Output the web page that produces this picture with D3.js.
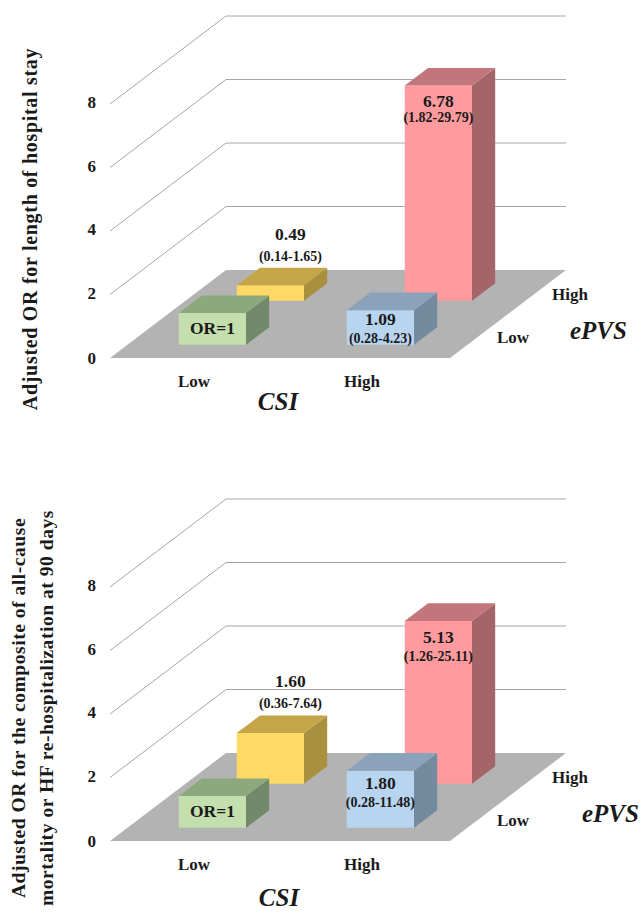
<!DOCTYPE html>
<html><head><meta charset="utf-8">
<script src="https://cdn.jsdelivr.net/npm/d3@7"></script>
<style>html,body{margin:0;padding:0;background:#fff;overflow:hidden}svg{display:block}text{font-family:"Liberation Serif",serif;font-weight:bold;fill:#1a1a1a}</style>
</head><body><svg id="c" width="641" height="915"></svg>
<script>
const csiLevels = ["Low","High"];
const epvsLevels = ["Low","High"];
const yTicks = [0,2,4,6,8];
const cells = ["Low-Low","High-High","High-Low","Low-High"];
const hospitalValues = [1, 6.78, 1.09, 0.49];
const hospitalLabels = ["OR=1","6.78","1.09","0.49"];
const hospitalCI = ["","(1.82-29.79)","(0.28-4.23)","(0.14-1.65)"];
const compositeValues = [1, 5.13, 1.80, 1.60];
const compositeLabels = ["OR=1","5.13","1.80","1.60"];
const compositeCI = ["","(1.26-25.11)","(0.28-11.48)","(0.36-7.64)"];
const hospitalTitle = ["Adjusted OR for length of hospital stay"];
const compositeTitle = ["Adjusted OR for the composite of all-cause","mortality or HF re-hospitalization  at 90 days"];

const palette = {
 "Low-Low":{f:"#c2dfad",t:"#8ba97d",s:"#72896a"},
 "Low-High":{f:"#ffd966",t:"#c4a548",s:"#a8903e"},
 "High-Low":{f:"#b8d4ee",t:"#8aa3ba",s:"#748a9e"},
 "High-High":{f:"#ff9a9e",t:"#c2767b",s:"#a36567"}
};
const svg = d3.select("#c");
const W=340, DX=116, DY=88;
const x = d3.scaleBand().domain(csiLevels).range([1,337]).paddingInner(0.6).paddingOuter(0.3);
const z = d3.scaleBand().domain(epvsLevels).range([0,1]).paddingInner(0.6).paddingOuter(0.3);
const y = d3.scaleLinear().domain([0,8]).range([0,254]);

function chart(o){
 const g = svg.append("g");
 const P=(a,d,v)=>[o.x0+a+d*DX, o.y0-d*DY-y(v)];
 const poly=(pts,fill)=>g.append("polygon").attr("points",pts.map(p=>p.join(",")).join(" ")).attr("fill",fill);
 poly([P(0,0,0),P(W,0,0),P(W,1,0),P(0,1,0)],"#b3b3b3");
 yTicks.filter(t=>t>0).forEach(t=>{
  g.append("path").attr("d",d3.line()([P(0,0,t),P(0,1,t),P(W,1,t)]))
   .attr("fill","none").attr("stroke","#a6a6a6").attr("stroke-width",1);
 });
 g.selectAll(".tk").data(yTicks).join("text").attr("x",o.x0-14).attr("y",t=>P(0,0,t)[1]+(t?4:6))
  .attr("text-anchor","end").attr("font-size",17).text(t=>t);
 const order=["High-High","Low-High","High-Low","Low-Low"];
 order.forEach(k=>{
  const i=cells.indexOf(k), [c,e]=k.split("-"), v=o.values[i], col=palette[k];
  const a0=x(c),a1=a0+x.bandwidth(),d0=z(e),d1=d0+z.bandwidth();
  poly([P(a0,d0,0),P(a1,d0,0),P(a1,d0,v),P(a0,d0,v)],col.f);
  poly([P(a1,d0,0),P(a1,d1,0),P(a1,d1,v),P(a1,d0,v)],col.s);
  poly([P(a0,d0,v),P(a1,d0,v),P(a1,d1,v),P(a0,d1,v)],col.t);
 });
 cells.forEach((k,i)=>{
  const [c,e]=k.split("-"), v=o.values[i];
  const a0=x(c),d0=z(e),d1=d0+z.bandwidth();
  const cx=P(a0+x.bandwidth()/2,d0,v)[0], top=P(a0,d0,v)[1], back=P(a0,d1,v)[1];
  if(k==="Low-Low"){
   g.append("text").attr("x",cx).attr("y",top+21).attr("text-anchor","middle").attr("font-size",17.5).text(o.labels[i]);
  } else if(k==="Low-High"){
   g.append("text").attr("x",cx+20).attr("y",back-28).attr("text-anchor","middle").attr("font-size",17.5).text(o.labels[i]);
   g.append("text").attr("x",cx+20).attr("y",back-7).attr("text-anchor","middle").attr("font-size",14).text(o.ci[i]);
  } else {
   const off=k==="High-High"?[o.rv,o.rc]:[o.bv,o.bc];
   g.append("text").attr("x",cx).attr("y",top+off[0]).attr("text-anchor","middle").attr("font-size",17.5).text(o.labels[i]);
   g.append("text").attr("x",cx).attr("y",top+off[1]).attr("text-anchor","middle").attr("font-size",14).text(o.ci[i]);
  }
 });
 g.selectAll(".csi").data(csiLevels).join("text").attr("x",c=>o.x0+x(c)+x.bandwidth()/2+(c==="Low"?-1:-1))
  .attr("y",o.y0+29).attr("text-anchor","middle").attr("font-size",17).text(c=>c);
 g.selectAll(".ep").data(epvsLevels).join("text")
  .attr("x",e=>e==="Low"?o.x0+387:o.x0+442).attr("y",e=>e==="Low"?o.y0-15:o.y0-58)
  .attr("font-size",17).text(e=>e);
 g.append("text").attr("x",o.csiX).attr("y",o.y0+o.csiDy).attr("text-anchor","middle").attr("font-size",25).attr("font-style","italic").text("CSI");
 g.append("text").attr("x",o.epX).attr("y",o.y0-19).attr("font-size",25).attr("font-style","italic").text("ePVS");
 o.title.forEach((t,i)=>{
  g.append("text").attr("transform",`translate(${o.tx+i*o.tdx},${o.ty}) rotate(-90)`)
   .attr("text-anchor","middle").attr("font-size",o.tf).attr("letter-spacing",o.ls).text(t);
 });
}
chart({x0:110,y0:358,values:hospitalValues,labels:hospitalLabels,ci:hospitalCI,rv:21,rc:36,bv:15,bc:33,
 csiX:278,csiDy:52,epX:570,title:hospitalTitle,tx:37,tdx:0,ty:229,tf:20,ls:0.7});
chart({x0:110,y0:841,values:compositeValues,labels:compositeLabels,ci:compositeCI,rv:22,rc:40,bv:18,bc:36,
 csiX:279,csiDy:65,epX:582,title:compositeTitle,tx:25,tdx:28,ty:708,tf:19.5,ls:0.55});
</script></body></html>
